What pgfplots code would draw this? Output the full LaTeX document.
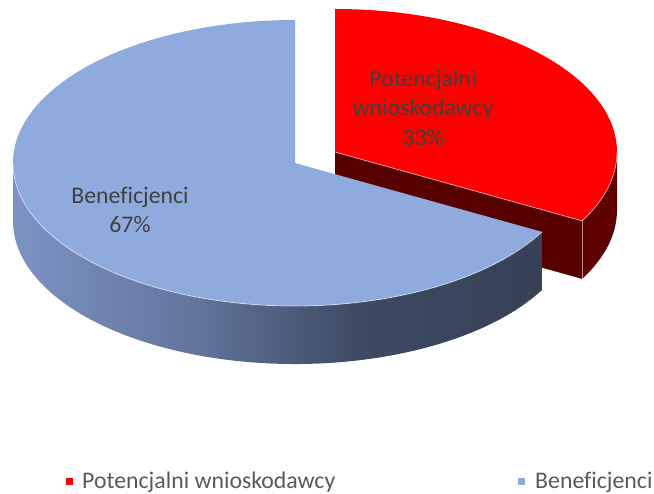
\documentclass[border=0pt]{standalone}
\usepackage{fontspec}
\setmainfont{Carlito}[Ligatures=NoCommon]
\usepackage{pgfplots}
\pgfplotsset{compat=1.18}
\definecolor{redtop}{RGB}{255,0,0}
\definecolor{redside}{RGB}{94,0,0}
\definecolor{redcut}{RGB}{86,0,0}
\definecolor{bluetop}{RGB}{143,170,220}
\definecolor{bs1}{RGB}{125,147,195}
\definecolor{bs2}{RGB}{98,116,155}
\definecolor{bs3}{RGB}{62,74,100}
\definecolor{bs4}{RGB}{54,65,86}
\definecolor{labtext}{RGB}{64,64,64}
\definecolor{legtext}{RGB}{89,89,89}
\pgfdeclarehorizontalshading{bluesideshade}{100bp}{color(0bp)=(bs1); color(25bp)=(bs1); color(42.5bp)=(bs2); color(57.5bp)=(bs3); color(75bp)=(bs4); color(100bp)=(bs4)}
\tikzset{ell/.style={x radius=282bp, y radius=143bp},
  lab/.style={anchor=base, inner sep=0pt, text=labtext, font=\fontsize{23.8bp}{29bp}\selectfont},
  leg/.style={anchor=base west, inner sep=0pt, text=legtext, font=\fontsize{23.8bp}{29bp}\selectfont},
  hl/.style={white, opacity=0.55, line width=0.8bp}}
\begin{document}
\begin{tikzpicture}
% data: shares of the two categories
\def\valA{33}\def\valB{67}
\pgfmathsetmacro\angA{360*\valA/(\valA+\valB)}
\pgfmathsetmacro\ea{90-\angA}
\pgfmathsetmacro\eb{360+\ea}
\def\rx{282}\def\ry{143}\def\h{58}
\def\Bx{295}\def\By{163}
\def\Rx{335}\def\Ry{152}
\pgfmathsetmacro\dx{\rx*cos(\ea)}
\pgfmathsetmacro\dy{-\ry*sin(\ea)}
\pgfmathsetmacro\RAx{\Rx+\dx}\pgfmathsetmacro\RAy{\Ry+\dy}\pgfmathsetmacro\RAyb{\RAy+\h}
\pgfmathsetmacro\Ryb{\Ry+\h}\pgfmathsetmacro\REx{\Rx+\rx}\pgfmathsetmacro\Rtop{\Ry-\ry}
\pgfmathsetmacro\BAx{\Bx+\dx}\pgfmathsetmacro\BAy{\By+\dy}\pgfmathsetmacro\BAyb{\BAy+\h}
\pgfmathsetmacro\BLx{\Bx-\rx}\pgfmathsetmacro\Byb{\By+\h}\pgfmathsetmacro\Btop{\By-\ry}
\begin{axis}[scale only axis, width=654bp, height=494bp, at={(0,0)}, anchor=south west,
  xmin=0, xmax=654, ymin=0, ymax=494, y dir=reverse, hide axis, clip=false]
% red slice (exploded)
\fill[redcut] (axis cs:\Rx,\Ry) -- (axis cs:\RAx,\RAy) -- (axis cs:\RAx,\RAyb) -- (axis cs:\Rx,\Ryb) -- cycle;
\fill[redside] (axis cs:\RAx,\RAy) arc[start angle=\ea, end angle=0, ell] -- (axis cs:\REx,\Ryb) arc[start angle=0, end angle=\ea, ell] -- cycle;
\fill[redtop] (axis cs:\Rx,\Ry) -- (axis cs:\Rx,\Rtop) arc[start angle=90, end angle=\ea, ell] -- cycle;
\draw[hl] (axis cs:\Rx,\Ry) -- (axis cs:\RAx,\RAy) arc[start angle=\ea, end angle=0, ell];
\draw[hl] (axis cs:\RAx,\RAy) -- (axis cs:\RAx,\RAyb);
% blue slice
\shade[shading=bluesideshade] (axis cs:\BLx,\By) arc[start angle=180, end angle=\eb, ell] -- (axis cs:\BAx,\BAyb) arc[start angle=\eb, end angle=180, ell] -- cycle;
\fill[bluetop] (axis cs:\Bx,\By) -- (axis cs:\BAx,\BAy) arc[start angle=\eb, end angle=90, ell] -- cycle;
\draw[hl] (axis cs:\BLx,\By) arc[start angle=180, end angle=\eb, ell];
% data labels
\node[lab] at (axis cs:423,87) {Potencjalni};
\node[lab] at (axis cs:423,116) {wnioskodawcy};
\node[lab] at (axis cs:423,145) {33\%};
\node[lab] at (axis cs:130,203) {Beneficjenci};
\node[lab] at (axis cs:130,232) {67\%};
% legend
\fill[redtop] (axis cs:66,478) rectangle (axis cs:73,485);
\node[leg] at (axis cs:82,488) {Potencjalni wnioskodawcy};
\fill[bluetop] (axis cs:518,478) rectangle (axis cs:525,485);
\node[leg] at (axis cs:535,488) {Beneficjenci};
\end{axis}
\pgfresetboundingbox
\path[use as bounding box] (0,0) rectangle (654bp,494bp);
\end{tikzpicture}
\end{document}
